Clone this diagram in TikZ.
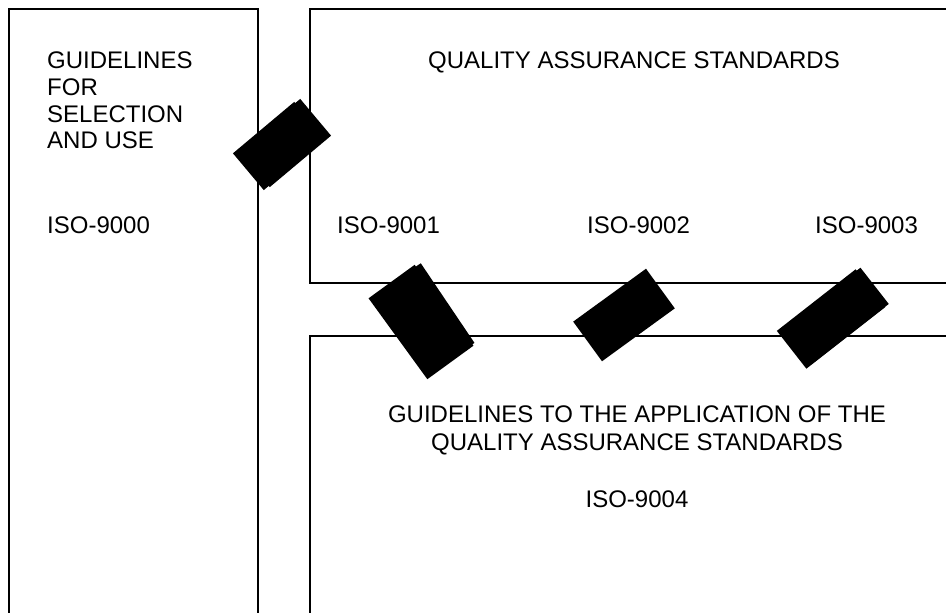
\documentclass[tikz,border=0pt]{standalone}
\usepackage{fontspec}
\setmainfont{Liberation Sans}
\begin{document}
\begin{tikzpicture}[x=1pt,y=-1pt,
  frame/.style={draw=black,line width=2pt},
  label/.style={font=\fontsize{24}{28}\selectfont,inner sep=0pt},
  patch/.style={fill=black,draw=none,inner sep=0pt,rectangle}]
\useasboundingbox[fill=white] (0,0) rectangle (946,613);

% open-ended frames
\draw[frame] (9,620) -- (9,9) -- (258,9) -- (258,620);
\draw[frame] (960,9) -- (310,9) -- (310,283) -- (960,283);
\draw[frame] (960,336) -- (310,336) -- (310,620);

% left column text
\node[label,anchor=base west] (g1) at (47,68) {GUIDELINES};
\node[label,anchor=base west] (g2) at (47,95) {FOR};
\node[label,anchor=base west] (g3) at (47,122) {SELECTION};
\node[label,anchor=base west] (g4) at (47,148) {AND USE};
\node[label,anchor=base west] (i0) at (47,233) {ISO-9000};

% quality assurance standards
\node[label,anchor=base] (qa) at (634,68) {QUALITY ASSURANCE STANDARDS};
\node[label,anchor=base west] (i1) at (337,233) {ISO-9001};
\node[label,anchor=base west] (i2) at (587,233) {ISO-9002};
\node[label,anchor=base west] (i3) at (815,233) {ISO-9003};

% application guidelines
\node[label,anchor=base] (ap1) at (637,422) {GUIDELINES TO THE APPLICATION OF THE};
\node[label,anchor=base] (ap2) at (637,450) {QUALITY ASSURANCE STANDARDS};
\node[label,anchor=base] (i4) at (637,507) {ISO-9004};

% black patches over the joints
\node[patch,minimum width=80pt,minimum height=48pt,rotate=40] (p1a) at (279,146) {};
\node[patch,minimum width=80pt,minimum height=48pt,rotate=40] (p1b) at (285,143) {};
\node[patch,minimum width=100pt,minimum height=57pt,rotate=-54] (p2a) at (421,322) {};
\node[patch,minimum width=96pt,minimum height=57pt,rotate=-56] (p2b) at (424,319) {};
\node[patch,minimum width=90pt,minimum height=49pt,rotate=36] (p3) at (624,315) {};
\node[patch,minimum width=100pt,minimum height=48pt,rotate=38] (p4a) at (831,319) {};
\node[patch,minimum width=98pt,minimum height=46pt,rotate=38] (p4b) at (836,316) {};
\end{tikzpicture}
\end{document}
